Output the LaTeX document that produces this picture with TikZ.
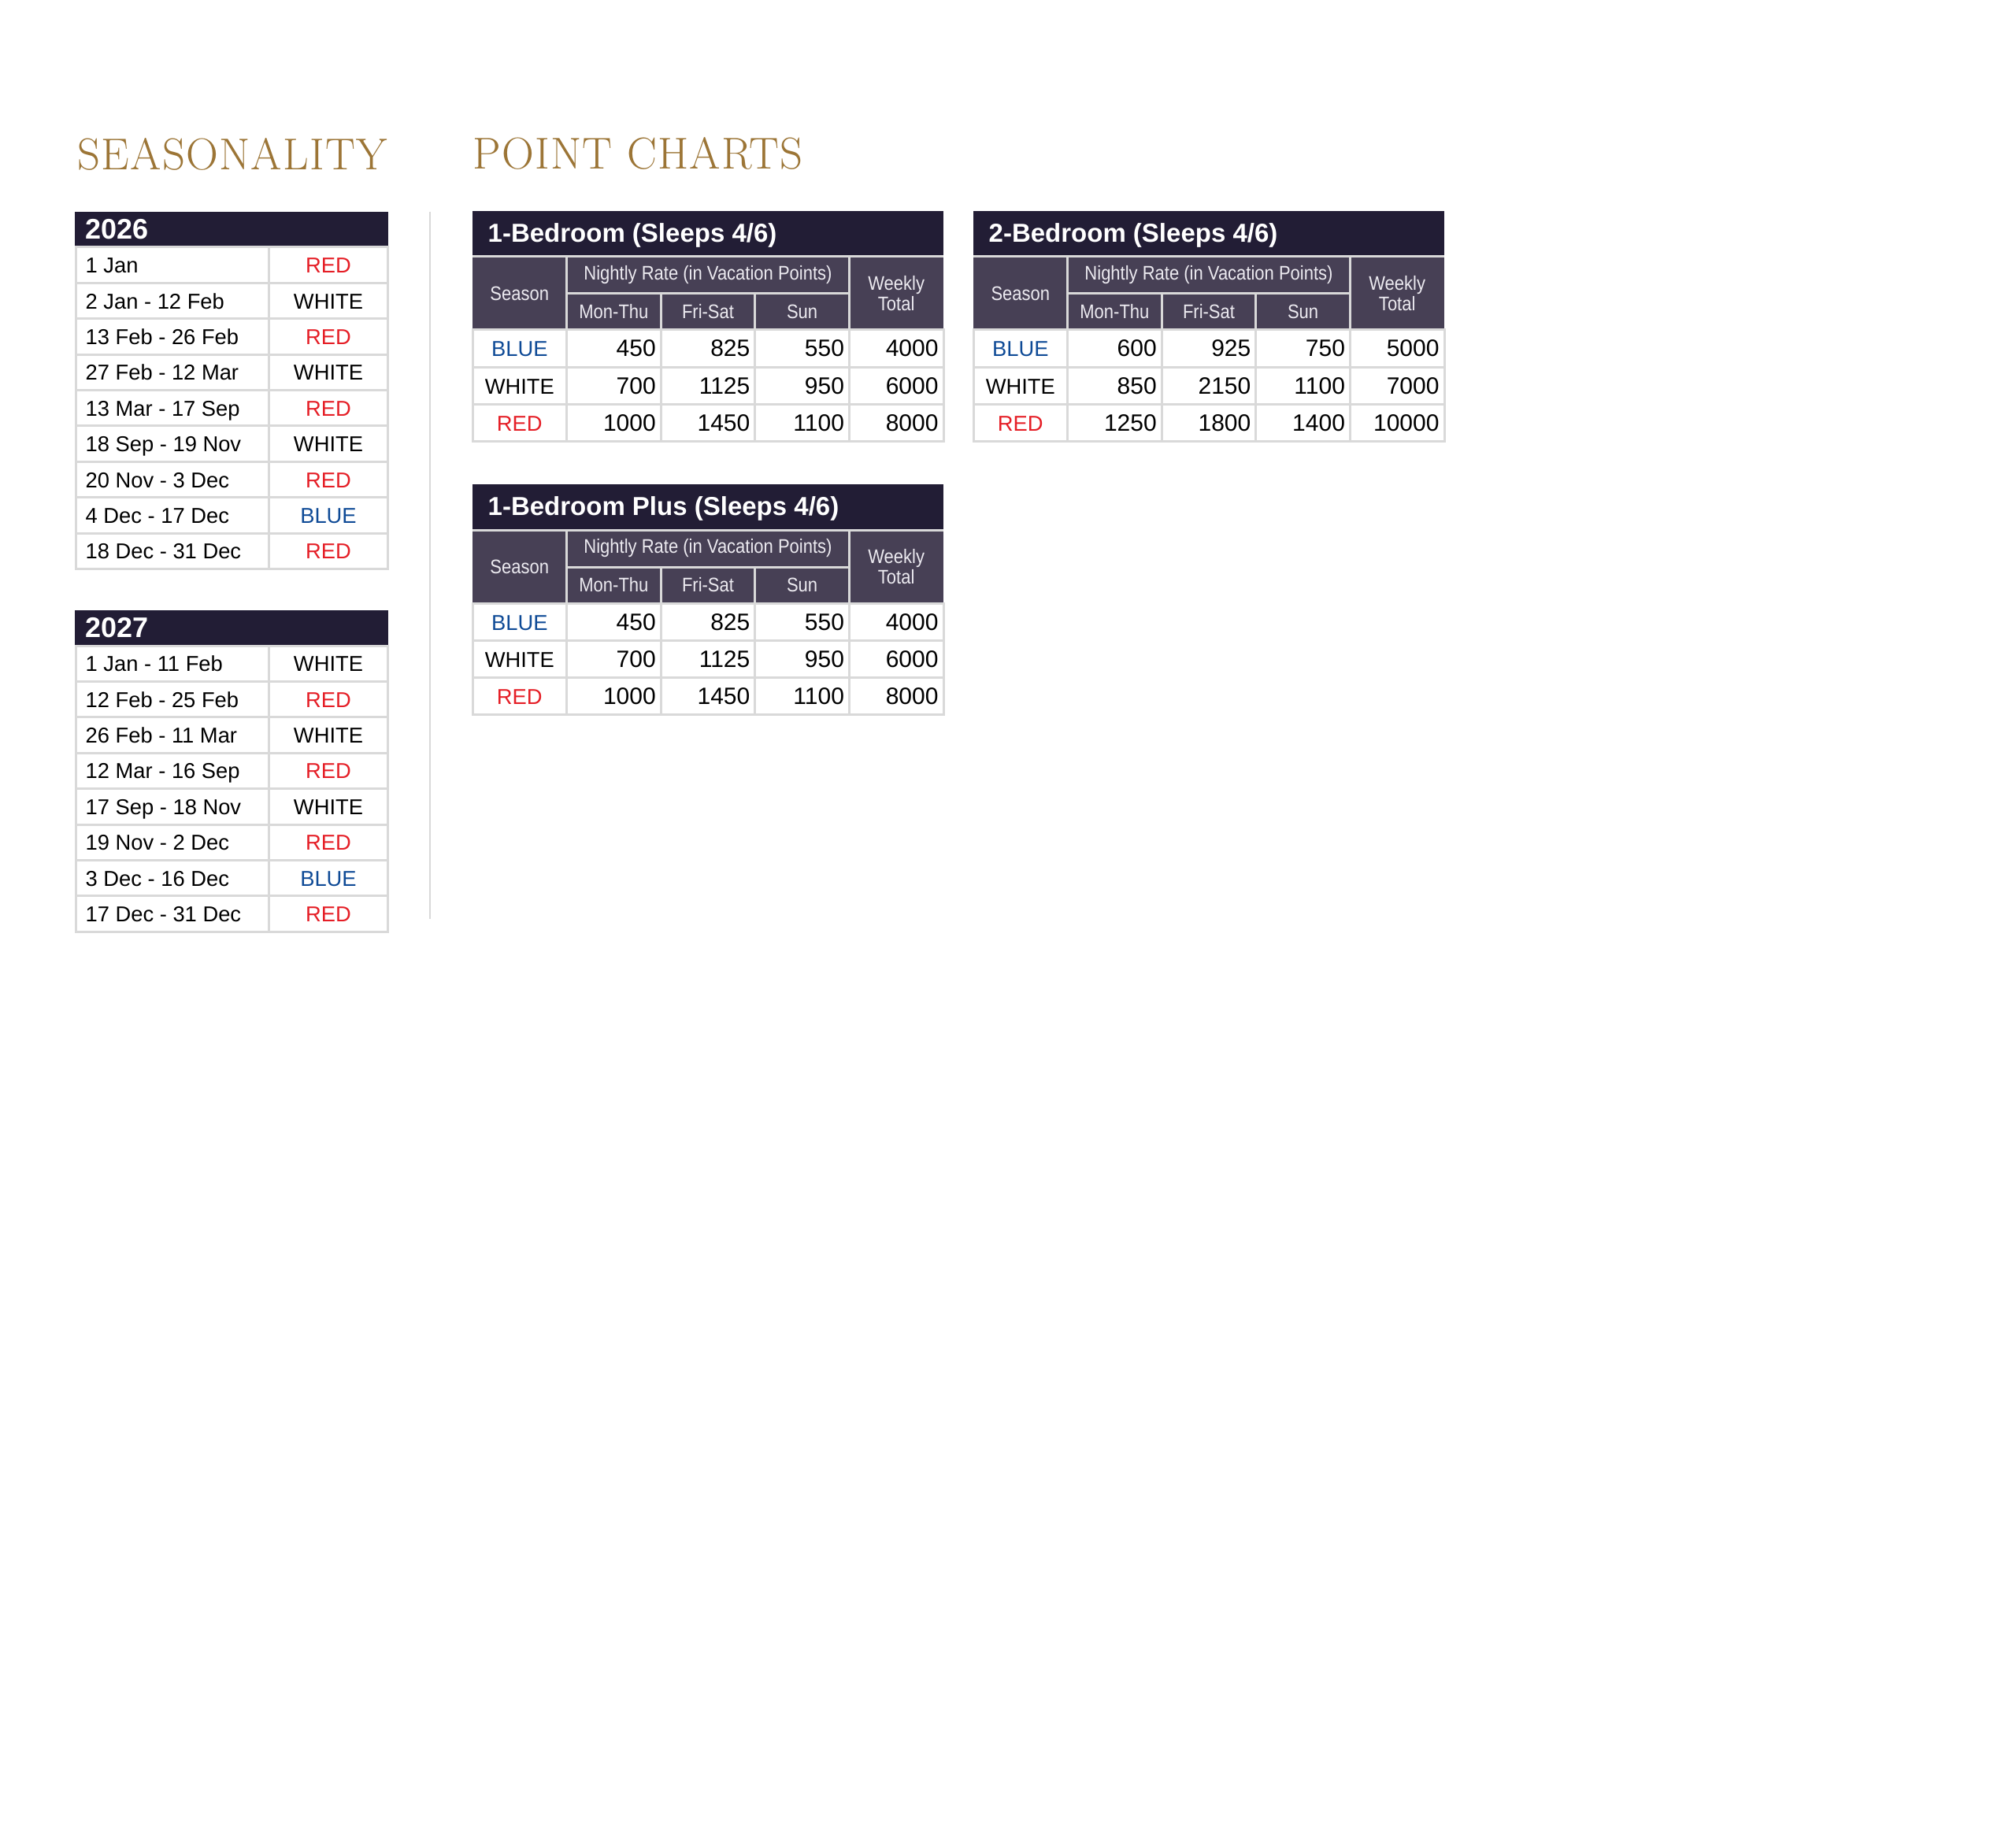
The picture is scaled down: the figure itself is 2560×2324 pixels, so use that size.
\documentclass[tikz,border=0pt]{standalone}
\usepackage{fontspec}
\setmainfont{Liberation Sans}
\newfontfamily\titlefont{lmroman17-regular}[Extension=.otf,LetterSpace=2.2]
\newfontfamily\narrowfont{Liberation Sans}[FakeStretch=0.88]
\usepackage{tikz}
\definecolor{gold}{HTML}{9C7536}
\definecolor{headdark}{HTML}{221D35}
\definecolor{headmid}{HTML}{474055}
\definecolor{gridgray}{HTML}{D9D9D9}
\definecolor{subwhite}{HTML}{ECEAF0}
\definecolor{RED}{HTML}{E51E26}
\definecolor{BLUE}{HTML}{0E4A96}
\colorlet{WHITE}{black}

\tikzset{
  chapter/.style={anchor=base west,inner sep=0pt,text=gold,font=\titlefont\fontsize{17}{20}\selectfont},
  cell/.style={draw=gridgray,line width=0.9pt},
  subline/.style={draw=gridgray,line width=0.9pt},
  yeartext/.style={anchor=base west,inner sep=0pt,text=white,font=\bfseries\fontsize{10.8}{12}\selectfont},
  datetext/.style={anchor=base west,inner sep=0pt,font=\fontsize{8.2}{10}\selectfont},
  seasontext/.style={anchor=base,inner sep=0pt,font=\fontsize{8.2}{10}\selectfont},
  numtext/.style={anchor=base east,inner sep=0pt,font=\fontsize{9}{10}\selectfont},
  subtext/.style={inner sep=0pt,text=subwhite,align=center,font=\narrowfont\fontsize{7.5}{8}\selectfont},
  charttitle/.style={anchor=base west,inner sep=0pt,text=white,font=\bfseries\fontsize{9.9}{12}\selectfont}
}

\newcommand\seasontable[4]{%
  \fill[headdark] (95,#2) rectangle (493,#2+45);
  \node[yeartext] (#1-year) at (108,#2+34.5) {#3};
  \foreach \d/\c [count=\i] in {#4} {
    \pgfmathsetmacro\rowtop{#2+45+(\i-1)*45.4}
    \draw[cell] (96,\rowtop) rectangle (341,\rowtop+45.4);
    \draw[cell] (341,\rowtop) rectangle (492,\rowtop+45.4);
    \node[datetext] (#1-d\i) at (108,\rowtop+32.7) {\d};
    \node[seasontext,text=\c] (#1-c\i) at (417,\rowtop+32.7) {\c};
  }
}

\newcommand\pointchart[5]{%
  \begin{scope}[shift={(#2,#3)}]
  \fill[headdark] (0,0) rectangle (598,58);
  \node[charttitle] (#1-title) at (19,40) {#4};
  \fill[headmid] (0,58) rectangle (598,151);
  \draw[subline] (0,58) -- (598,58);
  \draw[subline] (119.6,58) -- (119.6,151) (478.4,58) -- (478.4,151)
    (119.6,105) -- (478.4,105) (239.2,105) -- (239.2,151) (358.8,105) -- (358.8,151);
  \node[subtext] (#1-season) at (59.8,104.5) {Season};
  \node[subtext] (#1-nightly) at (299,81.5) {Nightly Rate (in Vacation Points)};
  \node[subtext] (#1-mon) at (179.4,128) {Mon-Thu};
  \node[subtext] (#1-fri) at (299,128) {Fri-Sat};
  \node[subtext] (#1-sun) at (418.6,128) {Sun};
  \node[subtext] (#1-weekly) at (538.2,104.5) {Weekly\\Total};
  \foreach \s/\a/\b/\c/\w [count=\i] in {#5} {
    \pgfmathsetmacro\rowtop{151+(\i-1)*47.3}
    \foreach \k in {0,...,4}
      \draw[cell] ({\k*119.6},\rowtop) rectangle ({(\k+1)*119.6},\rowtop+47.3);
    \node[seasontext,text=\s] (#1-s\i) at (59.8,\rowtop+34) {\s};
    \node[numtext] (#1-a\i) at (233.4,\rowtop+34) {\a};
    \node[numtext] (#1-b\i) at (353,\rowtop+34) {\b};
    \node[numtext] (#1-c\i) at (472.6,\rowtop+34) {\c};
    \node[numtext] (#1-w\i) at (592.2,\rowtop+34) {\w};
  }
  \end{scope}
}

\begin{document}
\begin{tikzpicture}[x=0.3pt,y=-0.3pt]
\fill[white] (0,0) rectangle (2560,2324);
\useasboundingbox (0,0) rectangle (2560,2324);

\node[chapter] (seasonality) at (98,216) {SEASONALITY};
\node[chapter] (pointcharts) at (600,215) {POINT CHARTS};

\draw[gridgray,line width=0.75pt] (546,269) -- (546,1167);

\seasontable{y26}{269}{2026}{1 Jan/RED, 2 Jan - 12 Feb/WHITE, 13 Feb - 26 Feb/RED,
  27 Feb - 12 Mar/WHITE, 13 Mar - 17 Sep/RED, 18 Sep - 19 Nov/WHITE,
  20 Nov - 3 Dec/RED, 4 Dec - 17 Dec/BLUE, 18 Dec - 31 Dec/RED}
\seasontable{y27}{775}{2027}{1 Jan - 11 Feb/WHITE, 12 Feb - 25 Feb/RED,
  26 Feb - 11 Mar/WHITE, 12 Mar - 16 Sep/RED, 17 Sep - 18 Nov/WHITE,
  19 Nov - 2 Dec/RED, 3 Dec - 16 Dec/BLUE, 17 Dec - 31 Dec/RED}

\pointchart{oneb}{600}{268}{1-Bedroom (Sleeps 4/6)}{BLUE/450/825/550/4000,
  WHITE/700/1125/950/6000, RED/1000/1450/1100/8000}
\pointchart{twob}{1236}{268}{2-Bedroom (Sleeps 4/6)}{BLUE/600/925/750/5000,
  WHITE/850/2150/1100/7000, RED/1250/1800/1400/10000}
\pointchart{onebplus}{600}{615}{1-Bedroom Plus (Sleeps 4/6)}{BLUE/450/825/550/4000,
  WHITE/700/1125/950/6000, RED/1000/1450/1100/8000}
\end{tikzpicture}
\end{document}
